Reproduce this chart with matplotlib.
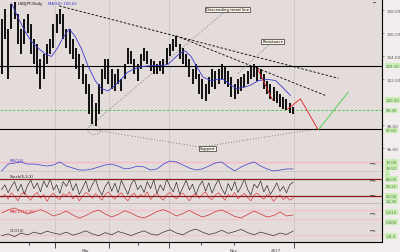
import numpy as np
import matplotlib.pyplot as plt
import matplotlib.transforms as mtransforms
from matplotlib.patches import Ellipse

# daily bars, price
bar_high = [107.3, 108.1, 106.4, 108.6, 108.7, 107.7, 106.4, 107.3, 107.7, 106.8, 105.5, 105.1, 103.8,
            104.2, 105.1, 105.5, 106.8, 107.7, 108.1, 107.7, 106.4, 106.4, 105.5, 104.7, 104.2, 103.3,
            102.5, 101.6, 100.7, 99.9, 101.6, 102.9, 103.8, 103.8, 102.9, 102.5, 102.9, 102.0, 103.3,
            104.7, 104.5, 103.8, 103.3, 104.2, 104.7, 104.5, 103.8, 103.6, 103.3, 103.6, 103.8, 104.7,
            105.1, 105.5, 105.8, 105.1, 104.7, 104.2, 103.8, 102.9, 103.3, 102.5, 102.0, 101.6, 102.2,
            102.9, 102.7, 102.9, 103.3, 103.1, 102.7, 102.2, 101.6, 102.0, 102.2, 102.5, 102.7, 103.1,
            103.3, 103.1, 102.9, 102.5, 101.9, 101.6, 101.3, 101.0, 100.7, 100.5, 100.3, 99.9, 99.6]
bar_low = [102.5, 105.5, 102.0, 106.4, 107.3, 105.1, 104.2, 105.1, 106.0, 104.2, 103.3, 102.5, 101.2,
           102.0, 103.3, 104.2, 104.7, 106.0, 106.8, 105.5, 104.7, 104.2, 103.8, 102.9, 102.0, 101.6,
           100.7, 99.0, 98.1, 97.9, 99.0, 100.7, 102.0, 101.6, 101.2, 101.0, 101.6, 101.0, 102.0,
           103.3, 103.3, 102.5, 101.9, 102.9, 103.6, 103.3, 102.7, 102.5, 102.5, 102.7, 102.5, 103.3,
           104.0, 104.5, 104.8, 103.8, 103.3, 103.1, 102.2, 101.6, 102.0, 100.7, 100.3, 100.1, 100.7,
           101.3, 101.2, 101.6, 102.0, 101.6, 101.3, 100.5, 100.3, 100.7, 101.0, 101.3, 101.6, 102.0,
           102.2, 101.9, 102.0, 101.2, 100.7, 100.3, 100.1, 99.9, 99.6, 99.4, 99.3, 99.1, 99.0]

# moving average
ma_x = [3.1, 5.2, 7.4, 9.2, 11.4, 13.5, 15.4, 17.2, 19.1, 20.9, 22.8, 24.6, 26.8, 28.9, 30.8, 32.9,
        34.8, 36.9, 38.8, 40.9, 43.1, 46.2, 49.2, 51.4, 53.2, 54.8, 56.6, 58.5, 60.3, 62.2, 64.6,
        66.8, 68.6, 70.8, 72.6, 74.8, 76.9, 79.4, 82.2, 84.6, 86.8, 89.2]
ma_y = [108.6, 107.3, 106.1, 105.3, 104.7, 104.2, 104.0, 104.7, 105.7, 106.4, 105.7, 104.7, 103.1,
        101.9, 101.2, 101.0, 101.4, 102.0, 102.6, 102.9, 103.1, 103.2, 103.2, 103.3, 103.8, 104.2,
        104.5, 104.0, 103.1, 102.2, 101.9, 102.0, 102.0, 101.5, 101.2, 101.3, 101.5, 101.9, 102.0,
        101.9, 101.3, 100.6]

# horizontal levels
level_top = 103.2
level_green = 99.3
level_low = 97.7

# trend lines and projections (bar index, price)
trend1_x, trend1_y = [17.8, 104.0], [108.4, 102.1]
trend2_x, trend2_y = [53.8, 100.0], [105.8, 100.6]
lead1_x, lead1_y = [27.1, 70.2], [97.9, 108.2]
lead2_x, lead2_y = [72.9, 83.7], [102.5, 105.3]
cup_x, cup_y = [28.5, 61.5, 97.8], [97.6, 96.1, 97.7]
red1_x, red1_y = [79.1, 83.7], [102.9, 100.2]
red2_x, red2_y = [88.3, 92.3, 97.8], [99.4, 100.3, 97.6]
green_x, green_y = [97.8, 107.1], [97.6, 100.9]

# oscillators
rsi = [6, 44, 50, 56, 44, 44, 39, 33, 39, 56, 33, 22, 11, 11, 17, 28, 39, 44, 33, 17, 22, 33, 28,
       11, 17, 44, 61, 56, 39, 22, 11, 17, 33, 50, 56, 28, 6, 28, 44, 56, 33, 17, 6, 11, 17, 17]
stoch_k = [45, 60, 35, 55, 70, 40, 62, 30, 58, 75, 48, 66, 38, 72, 52, 78, 44, 60, 33, 70, 55, 76,
           42, 64, 30, 50, 72, 38, 60, 78, 46, 28, 55, 70, 40, 65, 35, 74, 52, 30, 62, 77, 45, 58,
           36, 70, 48, 75, 32, 60, 42, 78, 55, 38, 68, 30, 52, 74, 44, 62, 28, 56, 72, 40, 66, 34,
           58, 76, 48, 30, 64, 42, 70, 36, 55, 78, 45, 28, 62, 50, 72, 38, 58, 30, 46, 66, 40, 55,
           35, 60, 68]
stoch_d = [20, 30, 15, 35, 25, 10, 30, 38, 22, 12, 28, 36, 18, 30, 8, 25, 34, 20, 14, 32, 26, 38,
           16, 28, 10, 24, 36, 30, 18, 33, 22, 12, 30, 38, 24, 15, 28, 35, 20, 10, 26, 34, 18, 30,
           22, 38, 14, 27, 33, 20, 12, 30, 36, 24, 16, 28, 34, 22, 10, 26, 32, 18, 30, 38, 20, 14,
           28, 35, 24, 12, 30, 22, 36, 16, 26, 33, 20, 10, 28, 34, 22, 15, 30, 25, 8, 20, 28, 14,
           22, 12, 18]
wave_red = [55, 70, 80, 65, 50, 60, 72, 58, 40, 50, 65, 45, 30, 42, 60, 70, 50, 35, 48, 66, 55, 38,
            30, 45, 62, 72, 58, 40, 52, 68, 50, 35, 45, 62, 70, 55, 38, 30, 48, 65, 50, 35, 42, 60,
            40, 45]
wave_black = [35, 45, 30, 50, 40, 55, 45, 60, 50, 42, 55, 38, 48, 62, 45, 35, 52, 40, 58, 48, 36, 50,
              62, 45, 38, 55, 68, 50, 40, 60, 72, 55, 42, 50, 65, 48, 58, 70, 52, 40, 55, 45, 35, 50,
              42, 60]

price_ticks = [96, 98, 102, 104, 106, 108]
grid_x = [16.6, 33.2, 51.7, 90.2]
minor_x = [8.6, 42.2, 61.5, 71.7]
date_labels = [(25.8, 'Mar'), (71.7, 'Nov'), (84.6, '2017')]

bg = '#e4dbdb'
W, H = 400, 253
fig = plt.figure(figsize=(4, 2.53), dpi=100, facecolor='#f2eded')


def panel(top, bottom):
    ax = fig.add_axes([0, 1 - bottom / H, 382 / W, (bottom - top) / H], facecolor=bg)
    ax.set_xlim(-0.5, 117.5)
    for s in ['top', 'left', 'bottom']:
        ax.spines[s].set_visible(False)
    ax.spines['right'].set_color('black')
    ax.spines['right'].set_linewidth(0.8)
    ax.set_xticks([])
    ax.yaxis.tick_right()
    ax.tick_params(axis='y', length=1.5, width=0.4, labelsize=3, colors='#555555', pad=2)
    ax.set_yticks([])
    for gx in grid_x:
        ax.axvline(gx, color='#c8c0c0', lw=0.5, zorder=0)
    return ax


def green_box(ax, val, txt):
    tr = mtransforms.blended_transform_factory(ax.transAxes, ax.transData)
    ax.text(1.01, val, txt, transform=tr, fontsize=2.8, color='#5a7a50', va='center', ha='left',
            bbox=dict(facecolor='#c9eeb4', edgecolor='none', pad=0.6), clip_on=False)


def marker(ax, val):
    tr = mtransforms.blended_transform_factory(ax.transAxes, ax.transData)
    ax.text(0.985, val, '\u2310>', transform=tr, fontsize=3, color='black', va='center', ha='right')


# main price panel
ax = panel(0, 155)
ax.set_ylim(95.5, 109.0)
ax.set_yticks(price_ticks)
ax.set_yticklabels(['%.2f' % p for p in price_ticks])
x = np.arange(len(bar_high))
ax.vlines(x, bar_low, bar_high, color='black', lw=1.3, zorder=3)
ax.plot(ma_x, ma_y, color='#3a3ad0', lw=0.6, zorder=4)
ax.axhline(level_top, color='black', lw=0.8)
ax.axhline(level_green, color='#3cbf3c', lw=0.6, ls=(0, (3, 2)))
ax.axhline(level_low, color='black', lw=0.8)
ax.plot(trend1_x, trend1_y, color='black', lw=0.6, ls=(0, (3, 2)))
ax.plot(trend2_x, trend2_y, color='black', lw=0.6, ls=(0, (3, 2)))
ax.plot(lead1_x, lead1_y, color='#8a8a8a', lw=0.4, ls=(0, (4, 2)))
ax.plot(lead2_x, lead2_y, color='#8a8a8a', lw=0.4, ls=(0, (4, 2)))
ax.plot(cup_x, cup_y, color='#333333', lw=0.5, ls=(0, (1, 3)))
ax.add_patch(Ellipse((28.6, 97.6), 4, 0.8, fill=False, ec='#555555', lw=0.4, ls=':'))
ax.plot(red1_x, red1_y, color='#e02020', lw=0.6, zorder=5)
ax.plot(red2_x, red2_y, color='#e02020', lw=0.6, zorder=5)
ax.plot(green_x, green_y, color='#40d040', lw=0.6, zorder=5)
box = dict(facecolor='#fbf4ea', edgecolor='black', lw=0.4, pad=0.5)
ax.text(69.8, 108.1, 'Descending trend line', fontsize=2.8, ha='center', va='center', bbox=box)
ax.text(83.7, 105.3, 'Resistance', fontsize=2.8, ha='center', va='center', bbox=box)
ax.text(63.7, 96.0, 'Support', fontsize=2.8, ha='center', va='center', bbox=box)
ax.text(0.045, 0.985, 'USDJPY,Daily', fontsize=2.8, transform=ax.transAxes, va='top', color='black')
ax.text(0.125, 0.985, 'MA(50) 100.63', fontsize=2.8, transform=ax.transAxes, va='top', color='#3a3ad0')
ax.text(0.985, 0.99, '\u2310', fontsize=3, transform=ax.transAxes, va='top', ha='right')
green_box(ax, level_top, '103.20')
green_box(ax, green_y[-1] - 0.7, '100.20')
green_box(ax, level_green, '99.30')
green_box(ax, level_low - 0.15, '97.60')

# RSI panel
ax = panel(155, 173)
ax.set_ylim(0, 100)
ax.plot(np.arange(len(rsi)) * 2, rsi, color='#3a3ad0', lw=0.5)
ax.axhline(55, color='#f4bcc6', lw=1.0, zorder=0)
ax.axhline(0, color='#2f5a2f', lw=0.9)
ax.text(0.025, 0.6, 'RSI(14)', fontsize=2.8, color='#3a3ad0', transform=ax.transAxes)
marker(ax, 55)
green_box(ax, 55, '70.00')
green_box(ax, 25, '39.52')

# stochastic panel
ax = panel(173, 205)
ax.set_ylim(0, 100)
ax.plot(np.arange(len(stoch_k)), stoch_k, color='#222222', lw=0.45)
ax.plot(np.arange(len(stoch_d)), stoch_d, color='#e03030', lw=0.45)
ax.axhline(78, color='#8b1a1a', lw=0.9)
ax.axhline(25, color='#8b1a1a', lw=0.9)
ax.axhline(0, color='black', lw=0.9)
ax.text(0.025, 0.84, 'Stoch(5,3,3)', fontsize=2.8, color='#222222', transform=ax.transAxes)
marker(ax, 78)
marker(ax, 30)
green_box(ax, 96, '...')
green_box(ax, 78, '80.00')
green_box(ax, 55, '58.21')
green_box(ax, 25, '20.00')
green_box(ax, 8, '14.30')

# red oscillator
ax = panel(205, 225)
ax.set_ylim(0, 100)
ax.axhline(72, color='#f4c4cc', lw=1.0, zorder=0)
ax.axhline(25, color='#f4c4cc', lw=1.0, zorder=0)
ax.plot(np.arange(len(wave_red)) * 2, wave_red, color='#d03030', lw=0.5)
ax.text(0.025, 0.62, 'MACD(12,26)', fontsize=2.8, color='#d03030', transform=ax.transAxes)
marker(ax, 60)
green_box(ax, 60, '0.512')
green_box(ax, 10, '0.000')

# black oscillator
ax = panel(225, 243)
ax.set_ylim(0, 100)
ax.axhline(40, color='#f4c4cc', lw=1.0, zorder=0)
ax.plot(np.arange(len(wave_black)) * 2, wave_black, color='#333333', lw=0.5)
ax.text(0.025, 0.62, 'CCI(14)', fontsize=2.8, color='#333333', transform=ax.transAxes)
marker(ax, 72)
green_box(ax, 33, '-28.4')
ax.spines['bottom'].set_visible(True)
ax.spines['bottom'].set_linewidth(0.8)
ax.set_xticks(grid_x)
ax.set_xticks(minor_x, minor=True)
ax.set_xticklabels([])
ax.tick_params(axis='x', which='major', length=4, width=0.5, direction='out')
ax.tick_params(axis='x', which='minor', length=2, width=0.5, direction='out')
for dx, lab in date_labels:
    ax.text(dx, -0.32, lab, fontsize=3, color='#444444', ha='center', va='top',
            transform=mtransforms.blended_transform_factory(ax.transData, ax.transAxes))

fig.savefig('out.png', dpi=100, facecolor=fig.get_facecolor())
